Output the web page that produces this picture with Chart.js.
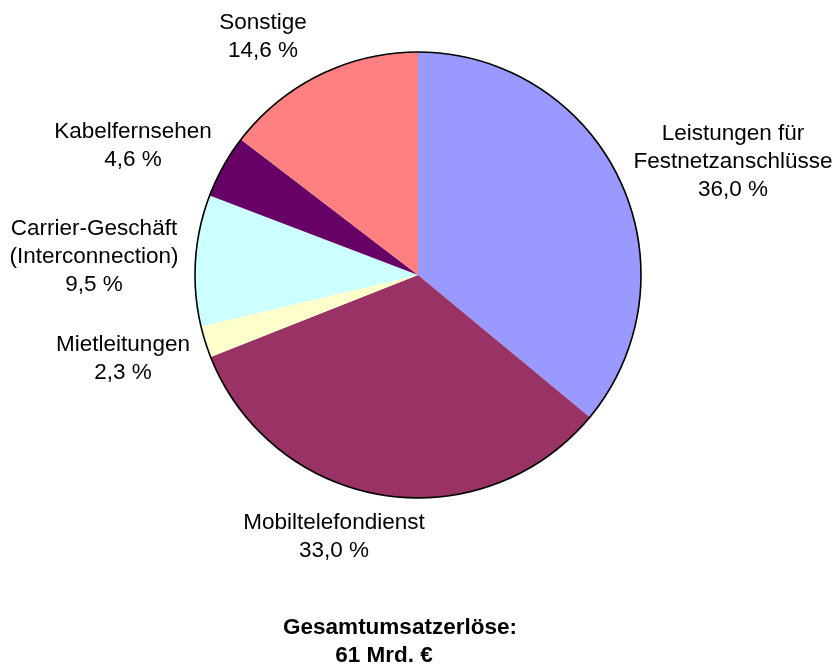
<!DOCTYPE html>
<html lang="de">
<head>
    <meta charset="UTF-8">
    <title>Gesamtumsatzerlöse</title>
    <script src="https://cdn.jsdelivr.net/npm/chart.js"></script>
    <style>
        body { margin: 0; background: #fff; }
        #wrap { width: 837px; height: 666px; position: relative; }
    </style>
</head>
<body>
    <div id="wrap"><canvas id="pieChart"></canvas></div>

    <script>
        // Daten
        const categories = [
            ['Leistungen für', 'Festnetzanschlüsse'],
            ['Mobiltelefondienst'],
            ['Mietleitungen'],
            ['Carrier-Geschäft', '(Interconnection)'],
            ['Kabelfernsehen'],
            ['Sonstige']
        ];
        const shares = [36.0, 33.0, 2.3, 9.5, 4.6, 14.6];
        const sliceColors = ['#9999FF', '#993366', '#FFFFCC', '#CCFFFF', '#660066', '#FF8080'];
        const titleLines = ['Gesamtumsatzerlöse:', '61 Mrd. €'];

        // Position der Beschriftungen (Mitte der ersten Zeile)
        const labelPos = [
            [733, 134], [334, 523], [123, 345], [94, 229], [133, 132], [263, 23]
        ];
        const titlePos = [[400, 628], [384, 656]];

        const fmt = v => v.toFixed(1).replace('.', ',') + ' %';

        const labelPlugin = {
            id: 'labels',
            afterDatasetsDraw(chart) {
                const ctx = chart.ctx;
                const arc = chart.getDatasetMeta(0).data[0];

                // Aussenrand des Kreises
                ctx.save();
                ctx.beginPath();
                ctx.arc(arc.x, arc.y, arc.outerRadius, 0, Math.PI * 2);
                ctx.lineWidth = 1.6;
                ctx.strokeStyle = '#000';
                ctx.stroke();

                ctx.fillStyle = '#000';
                ctx.textAlign = 'center';
                ctx.textBaseline = 'middle';
                ctx.font = '22.5px "Liberation Sans", Arial, sans-serif';
                categories.forEach((lines, i) => {
                    const [x, y] = labelPos[i];
                    lines.concat([fmt(shares[i])]).forEach((t, j) => {
                        ctx.fillText(t, x, y + j * 28);
                    });
                });

                ctx.font = 'bold 22.5px "Liberation Sans", Arial, sans-serif';
                titleLines.forEach((t, j) => ctx.fillText(t, titlePos[j][0], titlePos[j][1]));
                ctx.restore();
            }
        };

        new Chart(document.getElementById('pieChart'), {
            type: 'pie',
            data: {
                labels: categories.map(c => c.join(' ')),
                datasets: [{
                    data: shares,
                    backgroundColor: sliceColors,
                    borderWidth: 0
                }]
            },
            options: {
                responsive: true,
                maintainAspectRatio: false,
                animation: false,
                layout: { padding: { left: 195, right: 196, top: 52, bottom: 168 } },
                plugins: {
                    legend: { display: false },
                    tooltip: { enabled: false }
                }
            },
            plugins: [labelPlugin]
        });
    </script>
</body>
</html>
